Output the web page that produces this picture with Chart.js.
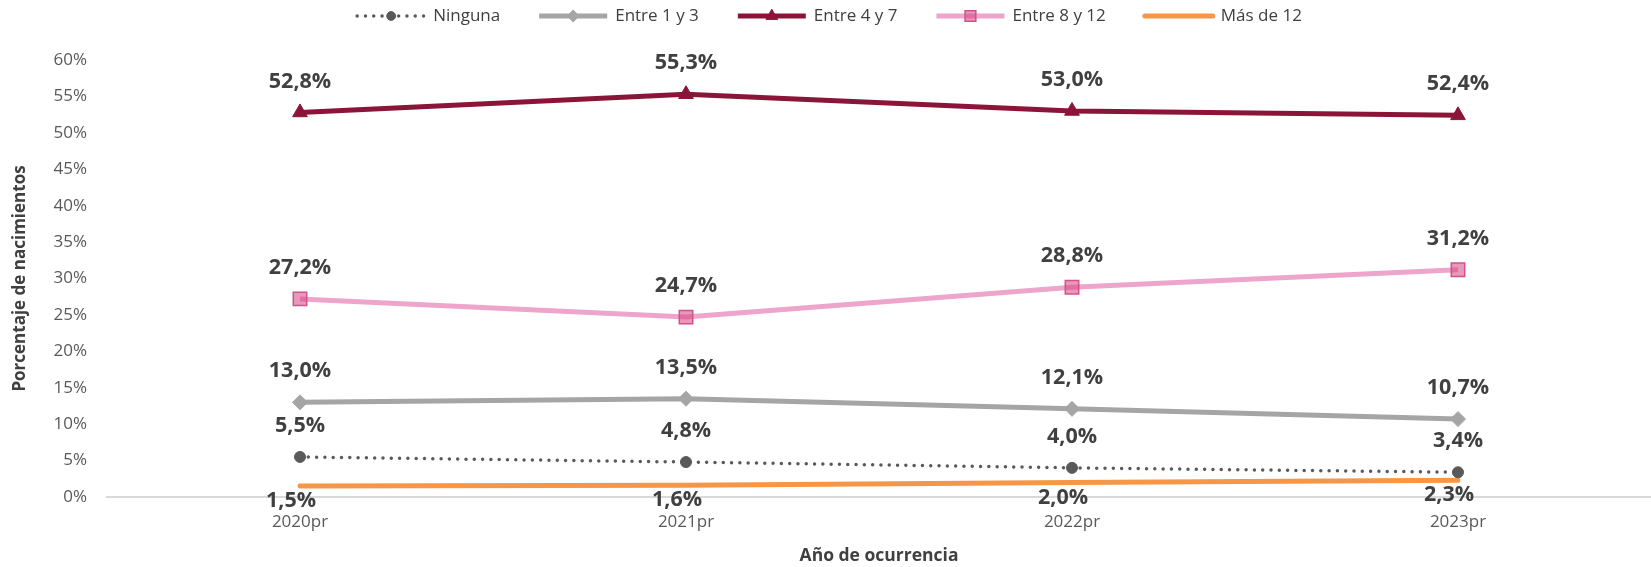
<!DOCTYPE html>
<html>
<head>
<meta charset="utf-8">
<script src="https://cdn.jsdelivr.net/npm/chart.js@4.4.1/dist/chart.umd.min.js"></script>
<style>
  html, body { margin: 0; padding: 0; background: #ffffff; }
  #wrap { width: 1651px; height: 567px; }
</style>
</head>
<body>
<div id="wrap"><canvas id="c" width="1651" height="567"></canvas></div>
<script>
// ---- data ----
const categories = ["2020pr", "2021pr", "2022pr", "2023pr"];
const seriesNames = ["Ninguna", "Entre 1 y 3", "Entre 4 y 7", "Entre 8 y 12", "Más de 12"];
const ninguna = [5.5, 4.8, 4.0, 3.4];
const entre1y3 = [13.0, 13.5, 12.1, 10.7];
const entre4y7 = [52.8, 55.3, 53.0, 52.4];
const entre8y12 = [27.2, 24.7, 28.8, 31.2];
const masDe12 = [1.5, 1.6, 2.0, 2.3];
const yTickValues = [0, 5, 10, 15, 20, 25, 30, 35, 40, 45, 50, 55, 60];
const yTitle = "Porcentaje de nacimientos";
const xTitle = "Año de ocurrencia";

const FONT = "'Open Sans', 'Noto Sans', sans-serif";
const fmt = v => v.toFixed(1).replace('.', ',') + '%';

const datasets = [
  { label: seriesNames[0], data: ninguna, borderColor: '#595959', backgroundColor: '#595959',
    borderWidth: 3.5, borderDash: [0, 8.3], borderCapStyle: 'round',
    pointStyle: 'circle', pointRadius: 5.5, pointBorderWidth: 1, pointBorderColor: '#595959',
    labelPos: 'above', labelDx: 0 },
  { label: seriesNames[1], data: entre1y3, borderColor: '#A5A5A5', backgroundColor: '#A5A5A5',
    borderWidth: 5, pointStyle: 'rectRot', pointRadius: 7.5, pointBorderWidth: 1, pointBorderColor: '#A5A5A5',
    labelPos: 'above', labelDx: 0 },
  { label: seriesNames[2], data: entre4y7, borderColor: '#8B1538', backgroundColor: '#8B1538',
    borderWidth: 5, pointStyle: 'triangle', pointRadius: 8.5, pointBorderWidth: 1, pointBorderColor: '#8B1538',
    labelPos: 'above', labelDx: 0 },
  { label: seriesNames[3], data: entre8y12, borderColor: '#EEA5CB', backgroundColor: 'rgba(214,69,130,0.55)',
    borderWidth: 5, pointStyle: 'rect', pointRadius: 9.5, pointBorderWidth: 1.5, pointBorderColor: '#D4508A',
    labelPos: 'above', labelDx: 0 },
  { label: seriesNames[4], data: masDe12, borderColor: '#F79646', backgroundColor: '#F79646',
    borderWidth: 5, borderCapStyle: 'round', pointRadius: 0, pointStyle: false,
    labelPos: 'below', labelDx: -9 }
];
datasets.forEach(d => { d.tension = 0; d.fill = false; d.pointHoverRadius = d.pointRadius; });

const labelPlugin = {
  id: 'valueLabels',
  afterDatasetsDraw(chart) {
    const ctx = chart.ctx;
    ctx.save();
    ctx.font = "bold 21.5px " + FONT;
    ctx.fillStyle = '#404040';
    ctx.textAlign = 'center';
    ctx.textBaseline = 'middle';
    chart.data.datasets.forEach((ds, i) => {
      const meta = chart.getDatasetMeta(i);
      meta.data.forEach((el, j) => {
        const dy = ds.labelPos === 'below' ? 15 : -31;
        ctx.fillText(fmt(ds.data[j]), el.x + ds.labelDx, el.y + dy);
      });
    });
    ctx.restore();
  }
};

const legendPlugin = {
  id: 'customLegend',
  afterDraw(chart) {
    const ctx = chart.ctx;
    const sampleW = 72, gapText = 6, gapItem = 37, yC = 16;
    ctx.save();
    ctx.font = "17px " + FONT;
    const items = chart.data.datasets.map(ds => ({ ds, w: ctx.measureText(ds.label).width }));
    const total = items.reduce((s, it) => s + sampleW + gapText + it.w, 0) + gapItem * (items.length - 1);
    let x = (chart.width - total) / 2 + 3;
    items.forEach(it => {
      const ds = it.ds;
      ctx.save();
      ctx.strokeStyle = ds.borderColor;
      ctx.lineWidth = ds.borderWidth;
      ctx.lineCap = ds.borderCapStyle || 'butt';
      ctx.setLineDash(ds.borderDash || []);
      ctx.beginPath();
      ctx.moveTo(x + 2, yC);
      ctx.lineTo(x + sampleW - 2, yC);
      ctx.stroke();
      ctx.restore();
      if (ds.pointStyle && ds.pointRadius > 0) {
        ctx.save();
        ctx.fillStyle = ds.backgroundColor;
        ctx.strokeStyle = ds.pointBorderColor;
        ctx.lineWidth = ds.pointBorderWidth;
        Chart.helpers.drawPoint(ctx, { pointStyle: ds.pointStyle, radius: ds.pointRadius * 0.8, rotation: 0, borderWidth: ds.pointBorderWidth }, x + sampleW / 2, yC);
        ctx.restore();
      }
      ctx.fillStyle = '#404040';
      ctx.textAlign = 'left';
      ctx.textBaseline = 'middle';
      ctx.fillText(ds.label, x + sampleW + gapText, yC);
      x += sampleW + gapText + it.w + gapItem;
    });
    ctx.restore();
  }
};

new Chart(document.getElementById('c'), {
  type: 'line',
  data: { labels: categories, datasets },
  plugins: [labelPlugin, legendPlugin],
  options: {
    responsive: false,
    animation: false,
    devicePixelRatio: 1,
    layout: { autoPadding: false, padding: { top: 60, right: 0, bottom: 0, left: 0 } },
    plugins: { legend: { display: false }, tooltip: { enabled: false } },
    elements: { line: { borderJoinStyle: 'round' } },
    scales: {
      x: {
        type: 'category',
        offset: true,
        grid: { display: false, drawTicks: false },
        border: { display: true, color: '#D9D9D9', width: 2 },
        ticks: { color: '#595959', font: { family: FONT, size: 17 }, padding: 15 },
        title: { display: true, text: xTitle, color: '#404040', font: { family: FONT, size: 17.5, weight: 'bold' }, padding: { top: 4, bottom: 0 } },
        afterFit(scale) { scale.height = 70; scale.paddingLeft = 0; scale.paddingRight = 0; }
      },
      y: {
        min: 0, max: 60,
        afterBuildTicks(scale) { scale.ticks = yTickValues.map(v => ({ value: v })); },
        grid: { display: false, drawTicks: false },
        border: { display: false },
        ticks: { color: '#595959', font: { family: FONT, size: 17 }, padding: 20, callback: v => v + '%' },
        title: { display: true, text: yTitle, color: '#404040', font: { family: FONT, size: 17, weight: 'bold' }, padding: { top: 10, bottom: 4 } },
        afterFit(scale) { scale.width = 107; }
      }
    }
  }
});
</script>
</body>
</html>
